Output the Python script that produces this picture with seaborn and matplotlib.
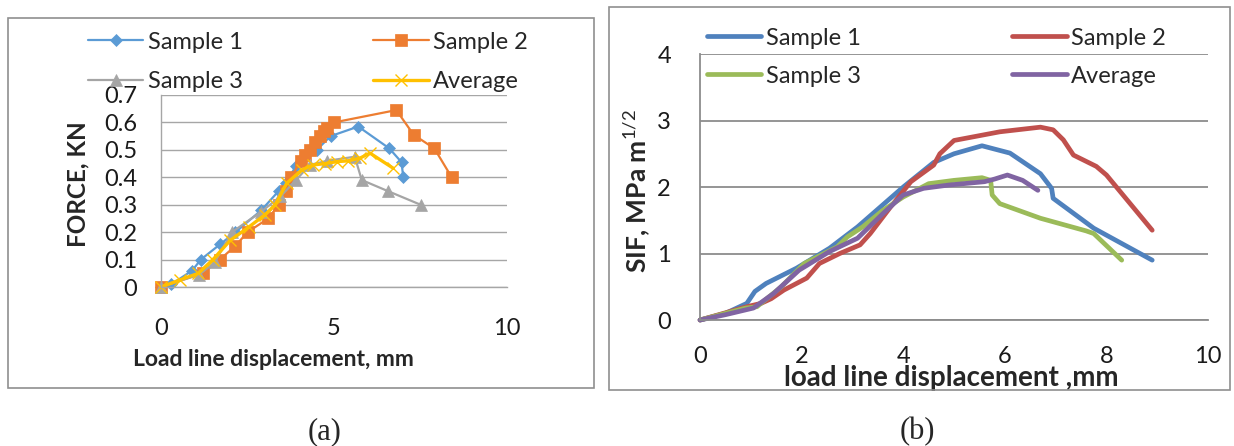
import matplotlib
matplotlib.use("Agg")
import matplotlib.pyplot as plt
import numpy as np
import pandas as pd
import seaborn as sns
from matplotlib.patches import Rectangle

# ---------------- data: panel (a) FORCE vs displacement ----------------
a_s1_x = [0, 0.3, 0.9, 1.15, 1.7, 2.15, 2.9, 3.4, 3.6, 3.9, 4.5, 4.9, 5.7, 6.6, 6.95, 7.0]
a_s1_y = [0, 0.01, 0.06, 0.10, 0.155, 0.20, 0.28, 0.35, 0.38, 0.44, 0.50, 0.55, 0.585, 0.505, 0.455, 0.40]
a_s2_x = [0, 1.2, 1.7, 2.15, 2.5, 3.1, 3.4, 3.6, 3.75, 4.05, 4.15, 4.3, 4.45, 4.6, 4.7, 4.8, 5.0, 6.8, 7.3, 7.9, 8.4]
a_s2_y = [0, 0.05, 0.10, 0.15, 0.20, 0.25, 0.30, 0.35, 0.40, 0.46, 0.48, 0.50, 0.53, 0.55, 0.57, 0.58, 0.60, 0.645, 0.555, 0.505, 0.40]
a_s3_x = [0, 1.1, 1.55, 2.05, 2.9, 3.45, 3.9, 4.3, 4.8, 5.6, 5.8, 6.55, 7.5]
a_s3_y = [0, 0.045, 0.09, 0.20, 0.275, 0.33, 0.39, 0.445, 0.46, 0.475, 0.39, 0.35, 0.30]
a_av_x = [0, 0.55, 1.08, 1.5, 2.0, 2.55, 3.0, 3.3, 3.63, 4.07, 4.4, 4.75, 5.08, 5.4, 5.75, 6.04, 6.71]
a_av_y = [0, 0.026, 0.05, 0.10, 0.17, 0.22, 0.263, 0.30, 0.378, 0.427, 0.445, 0.45, 0.457, 0.46, 0.47, 0.488, 0.433]

a_xticks = [0, 5, 10]
a_yticks = [0, 0.1, 0.2, 0.3, 0.4, 0.5, 0.6, 0.7]
a_yticklabels = ["0", "0.1", "0.2", "0.3", "0.4", "0.5", "0.6", "0.7"]

# ---------------- data: panel (b) SIF vs displacement ----------------
b_s1_x = [0, 0.5, 0.92, 1.08, 1.3, 1.9, 2.55, 3.1, 3.55, 4.0, 4.6, 5.0, 5.55, 6.1, 6.7, 6.92, 6.95, 7.75, 8.9]
b_s1_y = [0, 0.10, 0.25, 0.43, 0.55, 0.78, 1.08, 1.40, 1.70, 2.0, 2.37, 2.50, 2.62, 2.51, 2.20, 1.98, 1.83, 1.38, 0.90]
b_s2_x = [0, 0.92, 1.2, 1.4, 1.65, 2.1, 2.35, 2.75, 3.15, 3.35, 3.75, 4.15, 4.6, 4.72, 5.0, 5.9, 6.7, 6.95, 7.15, 7.35, 7.8, 8.0, 8.9]
b_s2_y = [0, 0.20, 0.25, 0.32, 0.45, 0.63, 0.85, 1.0, 1.13, 1.30, 1.70, 2.08, 2.33, 2.50, 2.70, 2.83, 2.90, 2.86, 2.71, 2.48, 2.31, 2.18, 1.35]
b_s3_x = [0, 0.9, 1.12, 1.6, 2.05, 2.7, 2.9, 3.2, 3.6, 4.0, 4.5, 5.0, 5.55, 5.72, 5.75, 5.9, 6.7, 7.6, 7.75, 8.3]
b_s3_y = [0, 0.18, 0.20, 0.50, 0.85, 1.10, 1.25, 1.40, 1.65, 1.85, 2.05, 2.10, 2.14, 2.10, 1.88, 1.75, 1.53, 1.34, 1.30, 0.90]
b_av_x = [0, 0.5, 1.05, 1.45, 1.95, 2.55, 3.1, 3.6, 4.0, 4.4, 4.9, 5.6, 5.8, 6.05, 6.35, 6.65]
b_av_y = [0, 0.08, 0.18, 0.40, 0.75, 1.03, 1.23, 1.60, 1.88, 1.98, 2.03, 2.08, 2.12, 2.18, 2.10, 1.95]

b_xticks = [0, 2, 4, 6, 8, 10]
b_yticks = [0, 1, 2, 3, 4]

series_names = ["Sample 1", "Sample 2", "Sample 3", "Average"]

# ---------------- style ----------------
sns.set_style("white")
plt.rcParams["font.family"] = ["Lato", "DejaVu Sans"]
plt.rcParams["mathtext.fontset"] = "custom"
plt.rcParams["mathtext.rm"] = "Lato"
plt.rcParams["mathtext.bf"] = "Lato:bold"
plt.rcParams["mathtext.it"] = "Lato"

fig = plt.figure(figsize=(12.34, 4.46), dpi=100)
fig.patch.set_facecolor("white")

# outer frames
fig.add_artist(Rectangle((0.0065, 0.130), 0.475, 0.8296, transform=fig.transFigure,
                         fill=False, ec="#8f8f8f", lw=1.2))
fig.add_artist(Rectangle((0.4935, 0.1256), 0.503, 0.8587, transform=fig.transFigure,
                         fill=False, ec="#8f8f8f", lw=1.2))


def row_major(ax):
    h, l = ax.get_legend_handles_labels()
    order = [0, 2, 1, 3]  # so that a 2-column legend reads row by row
    return [h[i] for i in order], [l[i] for i in order]


# ---------------- panel (a) ----------------
axA = fig.add_axes([0.1305, 0.3565, 0.2804, 0.4305])
a_colors = ["#5B9BD5", "#ED7D31", "#A5A5A5", "#FFC000"]
a_data = [(a_s1_x, a_s1_y), (a_s2_x, a_s2_y), (a_s3_x, a_s3_y), (a_av_x, a_av_y)]
a_markers = ["D", "s", "^", "x"]
a_ms = [6, 8, 8, 9]
a_lw = [1.6, 1.6, 1.6, 2.4]
for name, (xs, ys), c, m, ms, lw in zip(series_names, a_data, a_colors, a_markers, a_ms, a_lw):
    df = pd.DataFrame({"x": xs, "y": ys})
    sns.lineplot(data=df, x="x", y="y", ax=axA, color=c, marker=m, markersize=ms,
                 markeredgecolor=c, markeredgewidth=1.0 if m == "x" else 0.5,
                 lw=lw, sort=False, estimator=None, label=name, clip_on=False)

axA.set_xlim(0, 10)
axA.set_ylim(0, 0.7)
axA.set_xticks(a_xticks)
axA.set_yticks(a_yticks)
axA.set_yticklabels(a_yticklabels)
axA.grid(axis="y", color="#a6a6a6", lw=1.0)
axA.grid(axis="x", visible=False)
for s in ["top", "right"]:
    axA.spines[s].set_visible(False)
for s in ["left", "bottom"]:
    axA.spines[s].set_color("#a6a6a6")
    axA.spines[s].set_linewidth(1.0)
axA.tick_params(axis="both", direction="out", length=8, width=1.0, color="#a6a6a6",
                labelsize=17, labelcolor="#1a1a1a")
axA.tick_params(axis="x", pad=14)
axA.tick_params(axis="y", pad=9)
axA.set_xlabel("Load line displacement, mm", fontsize=16.5, fontweight="bold")
axA.set_ylabel("FORCE, KN", fontsize=17.5, fontweight="bold")
axA.xaxis.label.set_va("center")
axA.xaxis.set_label_coords(0.324, -0.38)
axA.yaxis.label.set_va("center")
axA.yaxis.set_label_coords(-0.240, 0.535)
hA, lA = row_major(axA)
axA.legend(hA, lA, loc="upper left", bbox_to_anchor=(0.0713, 0.929), bbox_transform=fig.transFigure,
           ncol=2, frameon=False, fontsize=17, handlelength=2.35, handletextpad=0.2,
           columnspacing=5.5, labelspacing=0.77, borderpad=0, borderaxespad=0, numpoints=1)

# ---------------- panel (b) ----------------
axB = fig.add_axes([0.5673, 0.2825, 0.4117, 0.5964])
b_colors = ["#4F81BD", "#C0504D", "#9BBB59", "#8064A2"]
b_data = [(b_s1_x, b_s1_y), (b_s2_x, b_s2_y), (b_s3_x, b_s3_y), (b_av_x, b_av_y)]
for name, (xs, ys), c in zip(series_names, b_data, b_colors):
    df = pd.DataFrame({"x": xs, "y": ys})
    sns.lineplot(data=df, x="x", y="y", ax=axB, color=c, lw=3.4, sort=False,
                 estimator=None, label=name, solid_capstyle="round",
                 solid_joinstyle="round", clip_on=False)

axB.set_xlim(0, 10)
axB.set_ylim(0, 4)
axB.set_xticks(b_xticks)
axB.set_yticks(b_yticks)
axB.grid(axis="y", color="#8c8c8c", lw=1.3)
axB.grid(axis="x", visible=False)
for s in ["top", "right"]:
    axB.spines[s].set_visible(False)
for s in ["left", "bottom"]:
    axB.spines[s].set_color("#8c8c8c")
    axB.spines[s].set_linewidth(1.3)
axB.tick_params(axis="both", direction="out", length=7, width=1.3, color="#8c8c8c",
                labelsize=17, labelcolor="#1a1a1a")
axB.tick_params(axis="x", pad=12)
axB.tick_params(axis="y", pad=14)
axB.set_xlabel("load line displacement ,mm", fontsize=20, fontweight="bold")
axB.set_ylabel(r"SIF, MPa m$^{1/2}$", fontsize=19, fontweight="bold")
axB.xaxis.label.set_va("center")
axB.xaxis.set_label_coords(0.494, -0.218)
axB.yaxis.label.set_va("center")
axB.yaxis.set_label_coords(-0.124, 0.485)
hB, lB = row_major(axB)
axB.legend(hB, lB, loc="upper left", bbox_to_anchor=(0.573, 0.938), bbox_transform=fig.transFigure,
           ncol=2, frameon=False, fontsize=17, handlelength=2.3, handletextpad=0.2,
           columnspacing=6.4, labelspacing=0.72, borderpad=0, borderaxespad=0)

# captions
fig.text(325 / 1234, 1 - 432 / 446, "(a)", ha="center", va="center", fontsize=22,
         family=["Liberation Serif", "DejaVu Serif"])
fig.text(917 / 1234, 1 - 432 / 446, "(b)", ha="center", va="center", fontsize=22,
         family=["Liberation Serif", "DejaVu Serif"])

fig.savefig("out.png", dpi=100)
